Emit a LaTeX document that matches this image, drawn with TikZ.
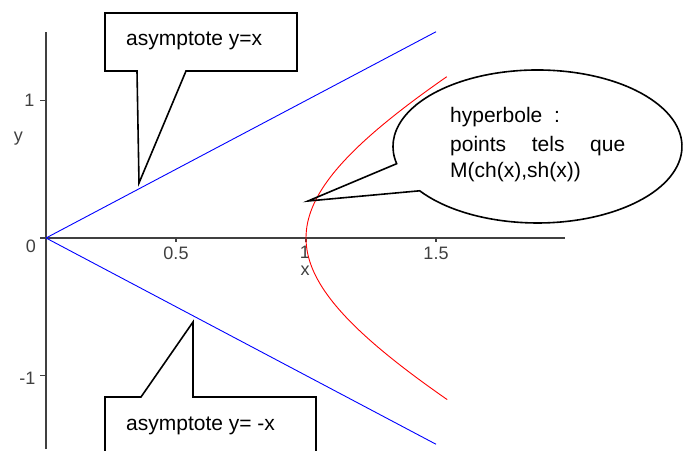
\documentclass[tikz,border=0pt]{standalone}
\usepackage{fontspec}
\setmainfont{Liberation Sans}
\definecolor{axisgray}{RGB}{64,64,64}
\begin{document}
\begin{tikzpicture}[x=1pt,y=1pt,
  axisline/.style={draw=axisgray, line width=1.3pt},
  ticklab/.style={font=\fontsize{18}{20}\selectfont, text=axisgray, inner sep=0pt},
  lab/.style={font=\fontsize{21}{25}\selectfont, inner sep=0pt, anchor=base west},
  asym/.style={draw=blue, line width=0.9pt},
  hyp/.style={draw=red, line width=0.9pt},
  callout/.style={draw=black, line width=1.6pt, line join=miter}]
\clip (0,0) rectangle (688,450);
% axes
\coordinate (O) at (46,212);
\coordinate (xstart) at (40,212);
\coordinate (xend) at (565,212);
\coordinate (ybot) at (46,1);
\coordinate (ytop) at (46,418);
\draw[axisline] (xstart) -- (xend);
\draw[axisline] (ybot) -- (ytop);
\foreach \t in {176,306,436} \draw[axisline] (\t,212) -- (\t,208);
\draw[axisline] (40,349.5) -- (46,349.5);
\draw[axisline] (40,74.5) -- (46,74.5);
% tick labels
\node[ticklab] (l05) at (176,197) {0.5};
\node[ticklab] (l1) at (305,197.5) {1};
\node[ticklab] (l15) at (436,197) {1.5};
\node[ticklab] (lx) at (305,179.5) {x};
\node[ticklab] (ly) at (18.3,311.5) {y};
\node[ticklab] (ly1) at (29.5,350) {1};
\node[ticklab] (l0) at (31,204) {0};
\node[ticklab] (lm1) at (27.5,72) {-1};
% curves
\coordinate (ua) at (436,418.25);
\coordinate (la) at (436,5.75);
\draw[asym] (O) -- (ua);
\draw[asym] (O) -- (la);
\draw[hyp] plot[domain=-1:1, samples=100, smooth] ({46+260*cosh(\x)},{212+137.5*sinh(\x)});
% upper callout
\coordinate (tipA) at (139,267);
\draw[callout] (105,437) -- (297,437) -- (297,379) -- (186,379) -- (tipA) -- (137,379) -- (105,379) -- cycle;
\node[lab] (tA) at (126,404) {asymptote y=x};
% lower callout
\coordinate (tipB) at (193,128);
\draw[callout] (105,-10) -- (105,53) -- (141,53) -- (tipB) -- (193,53) -- (316,53) -- (316,-10);
\node[lab] (tB) at (126,20) {asymptote y= -x};
% ellipse callout
\coordinate (tipC) at (308,249);
\draw[callout] (419.7,259.2) arc[start angle=215.4, end angle=553, x radius=144.5, y radius=76.5] -- (tipC) -- cycle;
\node[lab] (h1) at (450,327.3) {hyperbole\ \ :};
\node[lab] (h2) at (450,298.3) {\hbox to 175pt{points\hfill tels\hfill que}};
\node[lab] (h3) at (450,272.3) {M(ch(x),sh(x))};
\end{tikzpicture}
\end{document}
